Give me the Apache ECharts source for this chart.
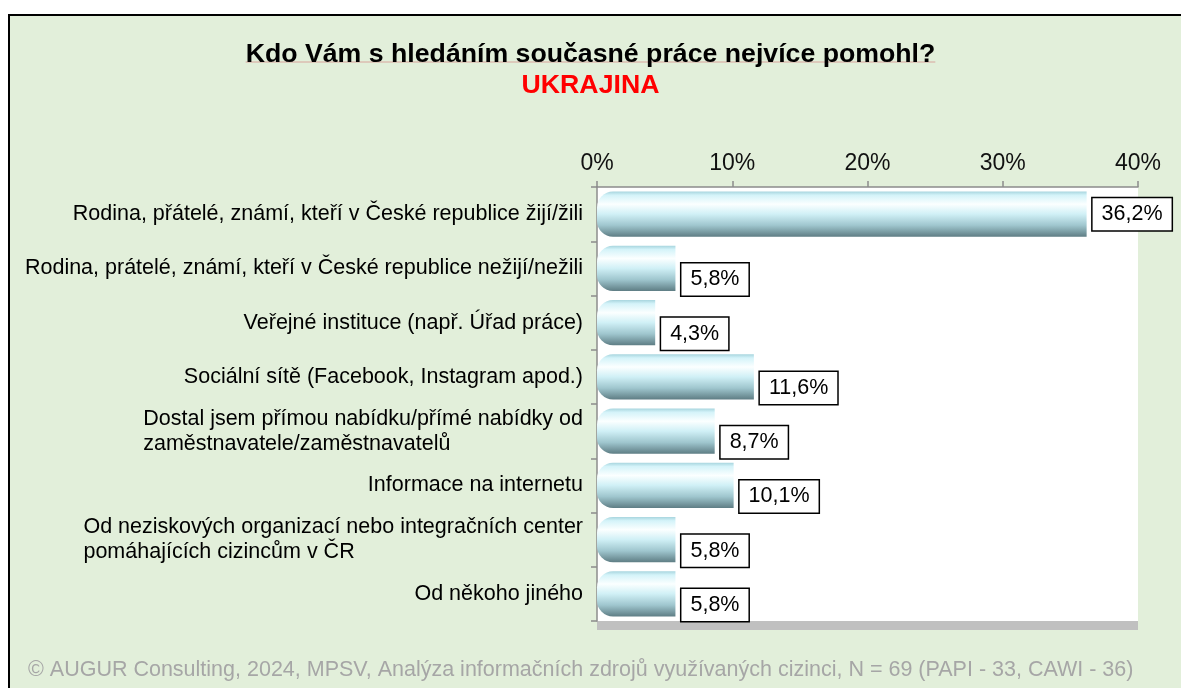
<!DOCTYPE html>
<html>
<head>
<meta charset="utf-8">
<title>Kdo Vám s hledáním současné práce nejvíce pomohl?</title>
<script src="https://cdn.jsdelivr.net/npm/echarts@6/dist/echarts.min.js"></script>
<style>
  html, body { margin: 0; padding: 0; background: #ffffff; overflow: hidden; }
  #frame {
    position: absolute; left: 8px; top: 14px; width: 1200px; height: 700px;
    background: #e2efda; border: 2px solid #000;
  }
  #chart { position: absolute; left: 0; top: 0; width: 1181px; height: 688px; }
</style>
</head>
<body>
<div id="frame"></div>
<div id="chart"></div>
<script>
// Survey answers (share of respondents, %)
const categories = [
  'Rodina, přátelé, známí, kteří v České republice žijí/žili',
  'Rodina, prátelé, známí, kteří v České republice nežijí/nežili',
  'Veřejné instituce (např. Úřad práce)',
  'Sociální sítě (Facebook, Instagram apod.)',
  'Dostal jsem přímou nabídku/přímé nabídky od\nzaměstnavatele/zaměstnavatelů',
  'Informace na internetu',
  'Od neziskových organizací nebo integračních center\npomáhajících cizincům v ČR',
  'Od někoho jiného'
];
const values = [36.2, 5.8, 4.3, 11.6, 8.7, 10.1, 5.8, 5.8];
const axisMin = 0, axisMax = 40, axisStep = 10;

const titleText = 'Kdo Vám s hledáním současné práce nejvíce pomohl?';
const subtitleText = 'UKRAJINA';
const footerText = '© AUGUR Consulting, 2024, MPSV, Analýza informačních zdrojů využívaných cizinci, N = 69 (PAPI - 33, CAWI - 36)';

const FONT = "'Liberation Sans', Arial, sans-serif";
const W = 1181;
const TITLE_SIZE = 26.7;
const grid = { left: 597, top: 187, width: 541, height: 434 };
const floorDepth = 9;

// width of the title, for the thin line drawn under it
const ctx = document.createElement('canvas').getContext('2d');
ctx.font = "bold " + TITLE_SIZE + "px 'Liberation Sans', Arial, sans-serif";
const titleWidth = ctx.measureText(titleText).width;

const fmt = v => v.toFixed(1).replace('.', ',') + '%';

const chart = echarts.init(document.getElementById('chart'), null, { renderer: 'canvas' });

const barFill = new echarts.graphic.LinearGradient(0, 0, 0, 1, [
  { offset: 0.00, color: '#a9d6df' },
  { offset: 0.08, color: '#d4f3f9' },
  { offset: 0.28, color: '#fbffff' },
  { offset: 0.50, color: '#d0f0f6' },
  { offset: 0.75, color: '#9fc6ce' },
  { offset: 1.00, color: '#5f7e85' }
]);

chart.setOption({
  backgroundColor: 'transparent',
  animation: false,
  textStyle: { fontFamily: FONT },
  title: [
    {
      text: titleText, left: 'center', top: 36,
      textStyle: { fontSize: TITLE_SIZE, fontWeight: 'bold', color: '#000', fontFamily: FONT }
    },
    {
      text: subtitleText, left: 'center', top: 67,
      textStyle: { fontSize: TITLE_SIZE, fontWeight: 'bold', color: '#ff0000', fontFamily: FONT }
    }
  ],
  grid: {
    left: grid.left, top: grid.top, width: grid.width, height: grid.height,
    show: true, backgroundColor: '#ffffff', borderWidth: 0
  },
  xAxis: {
    type: 'value', position: 'top',
    min: axisMin, max: axisMax, interval: axisStep,
    axisLine: { show: true, lineStyle: { color: '#8c8c8c', width: 1.5 } },
    axisTick: { show: true, length: 6, lineStyle: { color: '#8c8c8c', width: 1.5 } },
    splitLine: { show: false },
    axisLabel: {
      formatter: '{value}%', fontSize: 23, color: '#111', margin: 12, fontFamily: FONT
    }
  },
  yAxis: {
    type: 'category', inverse: true, data: categories,
    axisLine: { show: true, lineStyle: { color: '#8c8c8c', width: 1.5 } },
    axisTick: { show: true, length: 6, lineStyle: { color: '#8c8c8c', width: 1.5 } },
    axisLabel: {
      margin: 14, color: '#000', fontSize: 21.5, fontFamily: FONT, lineHeight: 25,
      formatter: v => v.split('\n').map(s => '{l|' + s + '}').join('\n'),
      rich: { l: { align: 'left', fontSize: 21.5, lineHeight: 25, color: '#000', fontFamily: FONT } }
    }
  },
  series: [{
    type: 'bar',
    data: values.map((v, i) => ({
      value: v,
      label: { offset: i === 0 ? [0, 0] : [0, 11] }
    })),
    barCategoryGap: '17%',
    itemStyle: { color: barFill, borderRadius: [16, 0, 0, 16] },
    label: {
      show: true, position: 'right', distance: 6,
      formatter: p => fmt(p.value),
      fontSize: 21.5, color: '#000', fontFamily: FONT,
      backgroundColor: '#ffffff', borderColor: '#000', borderWidth: 1.5,
      padding: [5, 9, 5, 9]
    }
  }],
  graphic: [
    {
      type: 'rect', silent: true,
      shape: { x: grid.left, y: grid.top + grid.height, width: grid.width, height: floorDepth },
      style: { fill: '#c0c0c0' }
    },
    {
      type: 'line', silent: true,
      shape: { x1: W / 2 - titleWidth / 2, y1: 62, x2: W / 2 + titleWidth / 2, y2: 62 },
      style: { stroke: '#d8a49c', lineWidth: 1 }
    },
    {
      type: 'text', silent: true, left: 28, top: 659,
      style: { text: footerText, fontSize: 21.5, fill: '#a6a6a6', fontFamily: FONT }
    }
  ]
});
</script>
</body>
</html>
